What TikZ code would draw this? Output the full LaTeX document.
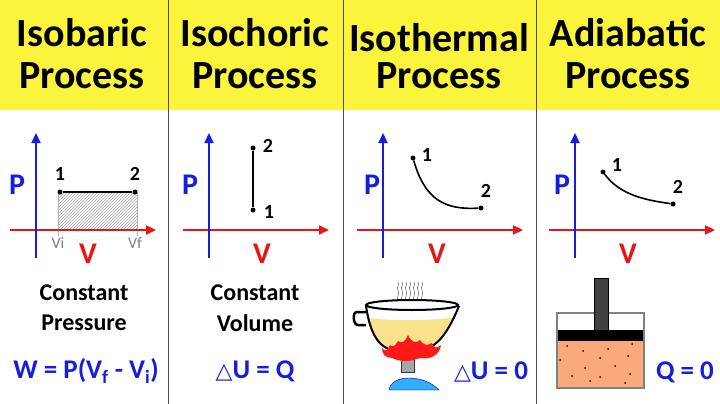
\documentclass[tikz,border=0pt]{standalone}
\usepackage{fontspec}
\setmainfont{Carlito}
\newfontfamily\djv{DejaVu Sans}
\usetikzlibrary{patterns,arrows.meta}
\definecolor{hy}{RGB}{250,245,60}
\definecolor{pb}{RGB}{20,30,220}
\definecolor{vr}{RGB}{235,20,20}
\definecolor{liq}{RGB}{250,225,140}
\definecolor{gas}{RGB}{250,170,120}
\begin{document}
\begin{tikzpicture}[x=1pt,y=-1pt,
  hd/.style={font=\fontsize{40}{40}\selectfont\bfseries},
  lab/.style={font=\fontsize{24}{24}\selectfont\bfseries},
  pl/.style={text=pb,font=\fontsize{30}{30}\selectfont\bfseries},
  vl/.style={text=vr,font=\fontsize{30}{30}\selectfont\bfseries},
  num/.style={font=\fontsize{20}{20}\selectfont\bfseries},
  yax/.style={pb,line width=2.2pt,-{Triangle[length=10pt,width=9pt]}},
  xax/.style={vr,line width=2.2pt,-{Triangle[length=10pt,width=9pt]}},
  dot/.style={circle,fill,inner sep=0,minimum size=5pt},
  frm/.style={text=pb,font=\fontsize{27}{27}\selectfont\bfseries}]
\useasboundingbox (0,0) rectangle (720,404);
\fill[white] (0,0) rectangle (720,404);
\fill[hy] (0,0) rectangle (110,110);
\fill[hy] (0,0) rectangle (720,110);
\foreach \x in {168,343,536} \draw[gray!60!black,line width=0.8pt] (\x,0) -- (\x,404);
% headers
\node[hd] (h1a) at (82,33) {Isobaric};  \node[hd] (h1b) at (82,76) {Process};
\node[hd] (h2a) at (255,33) {Isochoric}; \node[hd] (h2b) at (255,76) {Process};
\node[hd] (h3a) at (439,38) {Isothermal}; \node[hd] (h3b) at (439,76) {Process};
\node[hd] (h4a) at (628,33) {Adiabatic}; \node[hd] (h4b) at (628,76) {Process};
% graph 1
\fill[pattern=north east lines,pattern color=gray!70] (58,192) rectangle (137,230);
\draw[gray!60] (58,192) -- (58,236) (137,192) -- (137,236);
\draw[xax] (10,230) -- (156,230);
\draw[yax] (36,258) -- (36,133);
\node[pl] (p1) at (17,185) {P};
\node[vl] (v1) at (88,254) {V};
\node[dot] (a1) at (60,192) {}; \node[dot] (a2) at (135,192) {};
\draw[line width=2pt] (a1) -- (a2);
\node[num] at (60,174) {1}; \node[num] at (135,174) {2};
\node[text=gray,font=\fontsize{16}{16}\selectfont] at (58,243) {Vi};
\node[text=gray,font=\fontsize{16}{16}\selectfont] at (135,243) {Vf};
% graph 2
\draw[xax] (183,230) -- (329,230);
\draw[yax] (209,258) -- (209,133);
\node[pl] (p2) at (190,185) {P};
\node[vl] (v2) at (262,254) {V};
\node[dot] (b2) at (253,148) {}; \node[dot] (b1) at (253,210) {};
\draw[line width=2pt] (b1) -- (b2);
\node[num] at (268,146) {2}; \node[num] at (269,212) {1};
% graph 3
\draw[xax] (357,230) -- (523,230);
\draw[yax] (383,258) -- (383,133);
\node[pl] (p3) at (372,185) {P};
\node[vl] (v3) at (437,254) {V};
\node[dot] (c1) at (413,158) {}; \node[dot] (c2) at (481,208) {};
\draw[line width=1.6pt] (c1) .. controls (425,200) and (445,210) .. (c2);
\node[num] at (427,155) {1}; \node[num] at (486,191) {2};
% graph 4
\draw[xax] (549,230) -- (715,230);
\draw[yax] (575,258) -- (575,133);
\node[pl] (p4) at (562,185) {P};
\node[vl] (v4) at (628,254) {V};
\node[dot] (d1) at (603,172) {}; \node[dot] (d2) at (673,204) {};
\draw[line width=1.6pt] (d1) .. controls (620,195) and (645,200) .. (d2);
\node[num] at (617,165) {1}; \node[num] at (678,187) {2};
% texts
\node[lab] (t1) at (84,293) {Constant}; \node[lab] (t2) at (84,323) {Pressure};
\node[lab] (t3) at (255,293) {Constant}; \node[lab] (t4) at (255,323) {Volume};
\node[frm] (f1) at (86,371) {W = P(V$_{\mathbf f}$ - V$_{\mathbf i}$)};
\node[frm] (f2) at (255,371) {{\djv\bfseries\fontsize{22}{22}\selectfont△}U = Q};
\node[frm] (f3) at (491,372) {{\djv\bfseries\fontsize{22}{22}\selectfont△}U = 0};
\node[frm] (f4) at (685,372) {Q = 0};
% pot
\foreach \i in {0,...,6}
  \draw[gray!70!black,line width=0.5pt] (398+4*\i,302) .. controls (396+4*\i,298) and (400+4*\i,294) .. (398+4*\i,290) .. controls (396+4*\i,287) and (400+4*\i,285) .. (398+4*\i,282);
\draw[line width=2.5pt] (366,312) -- (357,312) .. controls (352,312) and (353,325) .. (358,325) -- (366,325);
\fill[liq] (367,318) .. controls (372,345) and (385,352) .. (407,352) .. controls (430,352) and (443,345) .. (452,318) .. controls (420,321) and (395,321) .. (367,318);
\draw[line width=2pt] (366,306) .. controls (372,345) and (385,352) .. (407,352) .. controls (430,352) and (443,345) .. (459,306);
\draw[line width=2pt,fill=white] (412,305) ellipse (46 and 5);
\fill[gray!70] (401,350) rectangle (414,372);
\draw[gray!40!black] (401,350) rectangle (414,372);
\fill[blue!40!cyan!80] (389,390) .. controls (391,374) and (424,374) .. (439,390) -- cycle;
\draw[blue!50!black] (389,390) .. controls (391,374) and (424,374) .. (439,390) -- cycle;
\fill[red!90] (382,348) .. controls (385,352) and (388,350) .. (390,345) .. controls (393,348) and (396,345) .. (398,341) .. controls (402,344) and (405,342) .. (408,335) .. controls (411,342) and (416,344) .. (420,340) .. controls (423,345) and (427,346) .. (432,343) .. controls (433,348) and (437,349) .. (441,345) .. controls (440,355) and (430,360) .. (420,358) .. controls (410,362) and (400,362) .. (392,358) .. controls (385,358) and (382,354) .. (382,348) -- cycle;
% piston
\fill[gas] (558,341) rectangle (643,388);
\foreach \px/\py in {567/346,583/351,608/349,632/344,560/360,600/358,628/356,585/368,615/366,572/376,600/377,630/374,590/381,625/383}
  {\fill[black!80!red] (\px,\py) circle (1pt);}
\draw[gray,line width=1.5pt] (557,313) -- (557,388) -- (644,388) -- (644,313) -- cycle;
\fill[black] (558,330) rectangle (643,341);
\fill[gray!50!black] (594,278) rectangle (608,330);
\draw (594,278) rectangle (608,330);
\end{tikzpicture}
\end{document}
